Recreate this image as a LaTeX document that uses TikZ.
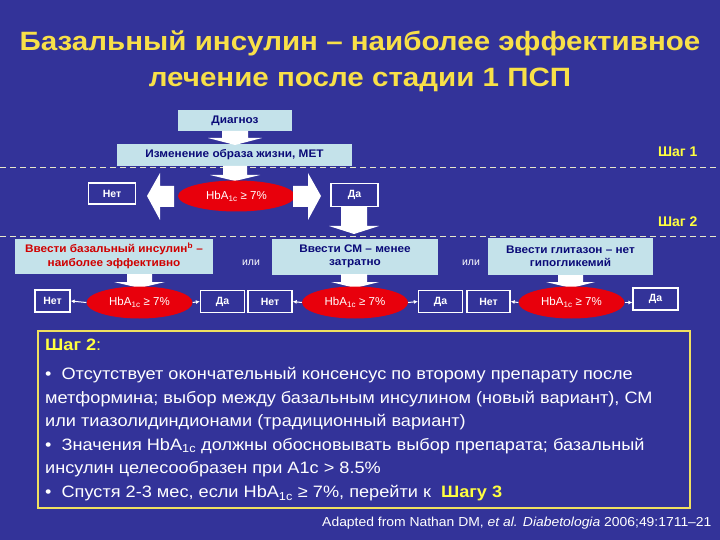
\documentclass[tikz,border=0pt]{standalone}
\usepackage{fontspec}
\setmainfont{Liberation Sans}
\usetikzlibrary{arrows.meta,shapes.geometric}
\definecolor{bg}{HTML}{333399}
\definecolor{lblue}{HTML}{C4E2EA}
\definecolor{navy}{HTML}{0A0A78}
\definecolor{ered}{HTML}{E8000C}
\definecolor{rtext}{HTML}{D00000}
\definecolor{titley}{HTML}{F8E048}
\definecolor{stepy}{HTML}{FFFF40}
\definecolor{dashc}{HTML}{E8E8C8}
\definecolor{boxy}{HTML}{F0E060}
\tikzset{
  lbox/.style={fill=lblue, draw=none, inner sep=0pt, font=\bfseries\fontsize{11}{13.5}\selectfont, text=navy, align=center},
  wbox/.style={draw=white, line width=1.3pt, fill=bg, inner sep=0pt, minimum width=44pt, minimum height=22pt, font=\bfseries\fontsize{10.5}{12}\selectfont, text=white},
  hba/.style={ellipse, fill=ered, draw=none, inner sep=0pt, minimum width=106pt, minimum height=32pt, font=\fontsize{11.5}{12}\selectfont, text=white},
  blk/.style={fill=white, draw=none},
  sm/.style={white, line width=1pt, -{Latex[length=4pt,width=4pt]}},
  stepl/.style={font=\bfseries\fontsize{14}{16}\selectfont, text=stepy, anchor=east},
  orl/.style={font=\fontsize{10.5}{12}\selectfont, text=white},
  dsh/.style={dashc, line width=0.8pt, dash pattern=on 6pt off 4pt}
}
\newcommand{\hbtxt}{HbA\textsubscript{1c} ≥ 7\%}
\newcommand{\sx}[1]{\scalebox{1.07}[1]{#1}}
\newcommand{\bx}[1]{\scalebox{1.1}[1]{#1}}
\begin{document}
\begin{tikzpicture}[x=1pt,y=-1pt]
\fill[bg] (0,0) rectangle (720,540);
\useasboundingbox (0,0) rectangle (720,540);

% title
\node[font=\bfseries\fontsize{26.5}{36}\selectfont, text=titley, align=center] (title) at (360,61)
  {\scalebox{1.115}[1]{Базальный инсулин -- наиболее эффективное}\\\scalebox{1.115}[1]{лечение после стадии 1 ПСП}};

% step 1
\node[lbox, minimum width=114pt, minimum height=21pt] (diag) at (235,120.5) {\sx{Диагноз}};
\node[lbox, minimum width=235pt, minimum height=22pt] (life) at (234.5,155) {\sx{Изменение образа жизни, МЕТ}};
\fill[blk] (222,131) -- (248,131) -- (248,138) -- (262,138) -- (235,145) -- (208,138) -- (222,138) -- cycle;
\draw[dsh] (0,167) -- (720,167);
\fill[blk] (223,166) -- (247,166) -- (247,175) -- (260,175) -- (235,181) -- (210,175) -- (223,175) -- cycle;
\node[stepl] (s1) at (701,152) {Шаг 1};
\node[hba, minimum width=117pt, minimum height=31pt] (e0) at (236.5,196) {\hbtxt};
\node[wbox, minimum width=47pt, minimum height=21pt] (n0) at (112,193.5) {Нет};
\node[wbox, minimum width=47pt, minimum height=23pt] (d0) at (354.5,195) {Да};
% big left / right arrows
\fill[blk] (174,186) -- (160,186) -- (160,173) -- (147,196) -- (160,220) -- (160,207) -- (174,207) -- cycle;
\fill[blk] (293,186) -- (308,186) -- (308,173) -- (321,196) -- (308,220) -- (308,207) -- (293,207) -- cycle;
% down from Да
\fill[blk] (341,206.5) -- (367,206.5) -- (367,226) -- (379,226) -- (354,234) -- (329,226) -- (341,226) -- cycle;
\draw[dsh] (0,236) -- (720,236);
\node[stepl] (s2) at (701,222) {Шаг 2};

% step 2 boxes
\node[lbox, minimum width=198pt, minimum height=35pt, text=rtext] (bA) at (114,256) {\sx{Ввести базальный инсулин\textsuperscript{b} --}\\\sx{наиболее эффективно}};
\node[lbox, minimum width=166pt, minimum height=36pt] (bB) at (355,256.5) {\sx{Ввести СМ -- менее}\\\sx{затратно}};
\node[lbox, minimum width=165pt, minimum height=37pt] (bC) at (570.5,256.5) {\sx{Ввести глитазон -- нет}\\\sx{гипогликемий}};
\node[orl] (or1) at (251,263) {или};
\node[orl] (or2) at (471,263) {или};

% down arrows to ellipses
\fill[blk] (127,274) -- (152,274) -- (152,282) -- (165,282) -- (139.5,288) -- (114,282) -- (127,282) -- cycle;
\fill[blk] (341,274) -- (367,274) -- (367,282) -- (379,282) -- (355,288) -- (331,282) -- (341,282) -- cycle;
\fill[blk] (558,275) -- (583,275) -- (583,282) -- (595,282) -- (571,288) -- (546,282) -- (558,282) -- cycle;

% step 2 ellipses and outcomes
\node[hba] (eA) at (139.5,302.5) {\hbtxt};
\node[hba] (eB) at (355,302.5) {\hbtxt};
\node[hba] (eC) at (571.5,302.5) {\hbtxt};
\node[wbox, minimum width=35pt] (nA) at (52.5,301) {Нет};
\node[wbox] (dA) at (222.5,301.5) {Да};
\node[wbox] (nB) at (270,301.5) {Нет};
\node[wbox] (dB) at (440.5,301.5) {Да};
\node[wbox, minimum width=43pt] (nC) at (488.5,301.5) {Нет};
\node[wbox, minimum width=45pt] (dC) at (655.5,299) {Да};
\draw[sm] (eA.west) -- (nA.east);
\draw[sm] (eA.east) -- (dA.west);
\draw[sm] (eB.west) -- (nB.east);
\draw[sm] (eB.east) -- (dB.west);
\draw[sm] (eC.west) -- (nC.east);
\draw[sm] (eC.east) -- (eC.east -| dC.west);

% text box
\node[draw=boxy, line width=1.6pt, fill=bg, minimum width=652pt, minimum height=177pt, inner sep=0pt] (tbox) at (364,419.5) {};
\node[anchor=north west, align=left, inner sep=0pt, text=white, font=\fontsize{16.5}{23.2}\selectfont] (tx) at (45,339)
 {\bx{\textcolor{stepy}{\bfseries Шаг 2}\textcolor{stepy}{:}}\\[6pt]
  \bx{\textbullet\ \ Отсутствует окончательный консенсус по второму препарату после}\\
  \bx{метформина; выбор между базальным инсулином (новый вариант), СМ}\\
  \bx{или тиазолидиндионами (традиционный вариант)}\\[0.5pt]
  \bx{\textbullet\ \ Значения HbA\textsubscript{1c} должны обосновывать выбор препарата; базальный}\\
  \bx{инсулин целесообразен при A1c > 8.5\%}\\[1pt]
  \bx{\textbullet\ \ Спустя 2-3 мес, если HbA\textsubscript{1c} ≥ 7\%, перейти к \ \textcolor{stepy}{\bfseries Шагу 3}}};

\node[anchor=east, text=white, font=\fontsize{13}{15}\selectfont] (cite) at (715,523)
 {\scalebox{1.07}[1]{Adapted from Nathan DM, \textit{et al. Diabetologia} 2006;49:1711--21}};
\end{tikzpicture}
\end{document}
